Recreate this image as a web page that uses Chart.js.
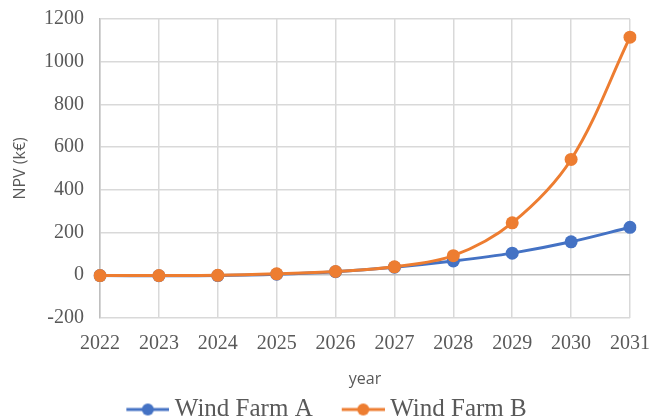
<!DOCTYPE html>
<html>
<head>
<meta charset="utf-8">
<script src="https://cdn.jsdelivr.net/npm/chart.js@4/dist/chart.umd.min.js"></script>
<style>
  html, body { margin: 0; padding: 0; background: #fff; overflow: hidden; }
  #wrap { width: 653px; height: 418px; position: relative; }
  canvas { display: block; }
</style>
</head>
<body>
<div id="wrap"><canvas id="npv"></canvas></div>
<script>
// years on the x axis
var years = ["2022", "2023", "2024", "2025", "2026", "2027", "2028", "2029", "2030", "2031"];
// NPV in k€
var farmA = [-2, -3, -2, 4, 16, 37, 66, 103, 156, 224];
var farmB = [-2, -2, -1, 6, 17, 39, 91, 245, 542, 1115];

var blue = "#4472C4";
var orange = "#ED7D31";

// line+dot swatch for the legend, like the excel one
// (transparent part on the left gives the gap between the two items)
function swatch(color) {
  var c = document.createElement("canvas");
  c.width = 73; c.height = 16;
  var g = c.getContext("2d");
  g.strokeStyle = color;
  g.lineWidth = 3;
  g.beginPath();
  g.moveTo(30, 8);
  g.lineTo(73, 8);
  g.stroke();
  g.fillStyle = color;
  g.beginPath();
  g.arc(51.5, 8, 6, 0, Math.PI * 2);
  g.fill();
  return c;
}

var ctx = document.getElementById("npv").getContext("2d");

var chart = new Chart(ctx, {
  type: "line",
  data: {
    labels: years,
    datasets: [
      {
        label: "Wind Farm A",
        data: farmA,
        borderColor: blue,
        backgroundColor: blue,
        borderWidth: 3,
        pointRadius: 6.5,
        pointBorderWidth: 0,
        tension: 0.35,
        fill: false,
        order: 2
      },
      {
        label: "Wind Farm B",
        data: farmB,
        borderColor: orange,
        backgroundColor: orange,
        borderWidth: 3,
        pointRadius: 6.5,
        pointBorderWidth: 0,
        tension: 0.35,
        fill: false,
        order: 1
      }
    ]
  },
  options: {
    responsive: true,
    maintainAspectRatio: false,
    animation: false,
    layout: { padding: { left: 0, right: 23, top: 0, bottom: -14 } },
    plugins: {
      tooltip: { enabled: false },
      legend: {
        position: "bottom",
        labels: {
          usePointStyle: true,
          pointStyleWidth: 59,
          boxHeight: 16,
          padding: 6,
          color: "#595959",
          font: { family: "'Liberation Serif', 'Times New Roman', serif", size: 25 },
          generateLabels: function (ch) {
            return [
              { text: "Wind Farm A", pointStyle: swatch(blue), fontColor: "#595959", datasetIndex: 0, lineWidth: 0, strokeStyle: "transparent", fillStyle: blue },
              { text: "Wind Farm B", pointStyle: swatch(orange), fontColor: "#595959", datasetIndex: 1, lineWidth: 0, strokeStyle: "transparent", fillStyle: orange }
            ];
          }
        }
      }
    },
    scales: {
      x: {
        offset: false,
        // keep the last year label close to the right edge
        afterFit: function (s) { s.paddingRight = 22; },
        grid: {
          color: "#d9d9d9",
          lineWidth: 1.5,
          drawTicks: false
        },
        border: { display: false },
        ticks: {
          color: "#595959",
          padding: 16,
          maxRotation: 0,
          autoSkip: false,
          font: { family: "'Liberation Serif', 'Times New Roman', serif", size: 20, lineHeight: 1 }
        },
        title: {
          display: true,
          text: "year",
          color: "#595959",
          padding: { top: 0, bottom: 2 },
          font: { family: "'Open Sans', 'Liberation Sans', sans-serif", size: 16 }
        }
      },
      y: {
        min: -200,
        max: 1200,
        afterFit: function (s) { s.paddingTop = 19; },
        grid: {
          color: function (c) { return c.tick && c.tick.value === 0 ? "#bfbfbf" : "#d9d9d9"; },
          lineWidth: 1.5,
          drawTicks: false
        },
        border: { display: true, color: "#bfbfbf", width: 1.5 },
        ticks: {
          stepSize: 200,
          color: "#595959",
          padding: 16,
          font: { family: "'Liberation Serif', 'Times New Roman', serif", size: 20 },
          callback: function (v) { return String(v); }
        },
        title: {
          display: true,
          text: "NPV (k€)",
          color: "#595959",
          padding: { top: 12, bottom: 0 },
          font: { family: "'Open Sans', 'Liberation Sans', sans-serif", size: 16, lineHeight: 1 }
        }
      }
    }
  }
});
</script>
</body>
</html>
